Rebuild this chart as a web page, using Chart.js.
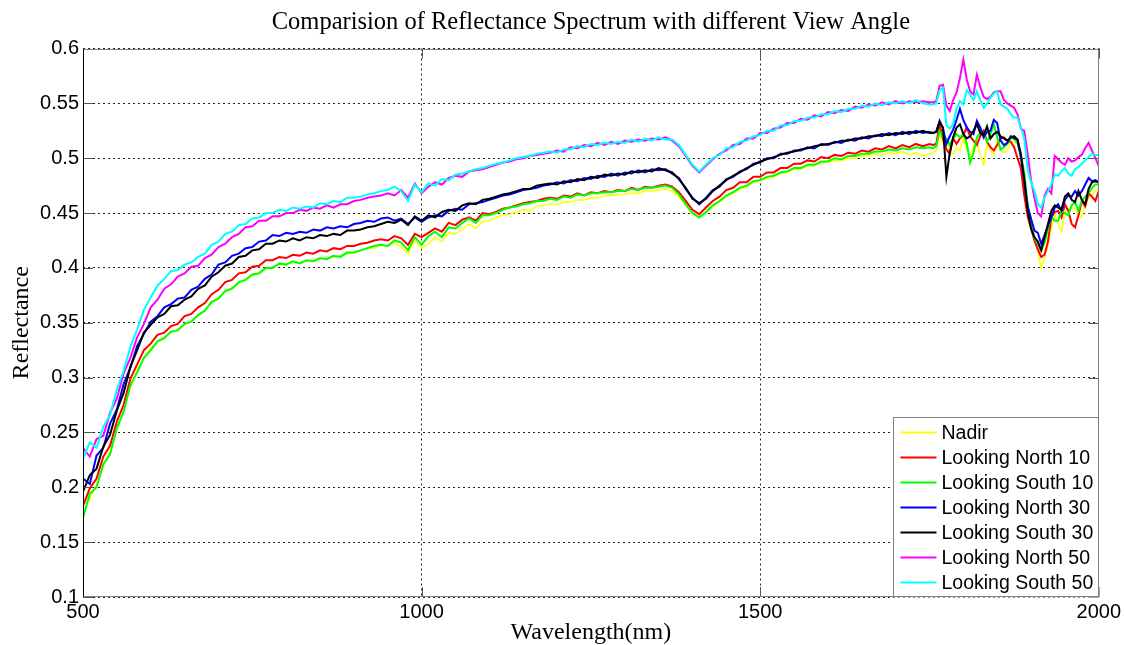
<!DOCTYPE html>
<html>
<head>
<meta charset="utf-8">
<title>Reflectance Spectrum</title>
<script src="https://cdn.jsdelivr.net/npm/chart.js@4.4.1/dist/chart.umd.min.js"></script>
<style>
  html, body { margin: 0; padding: 0; background: #fff; }
  #wrap { width: 1124px; height: 645px; }
</style>
</head>
<body>
<div id="wrap"><canvas id="spectrum-chart" width="1124" height="645"></canvas></div>
<script>
// wavelength samples (nm): 10 nm steps up to 1750, then 5 nm steps
const wavelengths = [
  500, 510, 520, 530, 540, 550, 560, 570, 580, 590,
  600, 610, 620, 630, 640, 650, 660, 670, 680, 690,
  700, 710, 720, 730, 740, 750, 760, 770, 780, 790,
  800, 810, 820, 830, 840, 850, 860, 870, 880, 890,
  900, 910, 920, 930, 940, 950, 960, 970, 980, 990,
  1000, 1010, 1020, 1030, 1040, 1050, 1060, 1070, 1080, 1090,
  1100, 1110, 1120, 1130, 1140, 1150, 1160, 1170, 1180, 1190,
  1200, 1210, 1220, 1230, 1240, 1250, 1260, 1270, 1280, 1290,
  1300, 1310, 1320, 1330, 1340, 1350, 1360, 1370, 1380, 1390,
  1400, 1410, 1420, 1430, 1440, 1450, 1460, 1470, 1480, 1490,
  1500, 1510, 1520, 1530, 1540, 1550, 1560, 1570, 1580, 1590,
  1600, 1610, 1620, 1630, 1640, 1650, 1660, 1670, 1680, 1690,
  1700, 1710, 1720, 1730, 1740, 1750,
  1755, 1760, 1765, 1770, 1775, 1780, 1785, 1790, 1795, 1800,
  1805, 1810, 1815, 1820, 1825, 1830, 1835, 1840, 1845, 1850,
  1855, 1860, 1865, 1870, 1875, 1880, 1885, 1890, 1895, 1900,
  1905, 1910, 1915, 1920, 1925, 1930, 1935, 1940, 1945, 1950,
  1955, 1960, 1965, 1970, 1975, 1980, 1985, 1990, 1995, 2000
];

const nadir = [
  0.184, 0.189, 0.203, 0.219, 0.233, 0.252, 0.271, 0.291, 0.307, 0.318,
  0.327, 0.333, 0.337, 0.341, 0.344, 0.348, 0.352, 0.356, 0.362, 0.368,
  0.373, 0.378, 0.382, 0.386, 0.390, 0.393, 0.396, 0.399, 0.401, 0.403,
  0.404, 0.405, 0.405, 0.406, 0.407, 0.408, 0.409, 0.410, 0.411, 0.413,
  0.414, 0.416, 0.418, 0.418, 0.421, 0.420, 0.423, 0.419, 0.413, 0.425,
  0.418, 0.422, 0.428, 0.424, 0.432, 0.431, 0.435, 0.440, 0.436, 0.442,
  0.443, 0.446, 0.448, 0.449, 0.451, 0.453, 0.452, 0.456, 0.457, 0.458,
  0.458, 0.460, 0.460, 0.462, 0.462, 0.464, 0.464, 0.466, 0.466, 0.467,
  0.467, 0.468, 0.468, 0.470, 0.470, 0.471, 0.472, 0.470, 0.465, 0.457,
  0.449, 0.447, 0.450, 0.456, 0.460, 0.465, 0.468, 0.472, 0.474, 0.478,
  0.479, 0.482, 0.483, 0.486, 0.487, 0.490, 0.490, 0.493, 0.493, 0.496,
  0.496, 0.498, 0.498, 0.500, 0.500, 0.502, 0.502, 0.504, 0.503, 0.505,
  0.504, 0.506, 0.503, 0.505, 0.502, 0.504,
  0.505, 0.507, 0.522, 0.513, 0.515, 0.506, 0.504, 0.510, 0.507, 0.518,
  0.508, 0.502, 0.511, 0.515, 0.503, 0.494, 0.512, 0.508, 0.503, 0.516,
  0.507, 0.505, 0.507, 0.516, 0.515, 0.513, 0.499, 0.475, 0.455, 0.437,
  0.426, 0.415, 0.400, 0.410, 0.420, 0.437, 0.449, 0.440, 0.433, 0.451,
  0.454, 0.455, 0.454, 0.449, 0.446, 0.458, 0.464, 0.467, 0.470, 0.473
];

const north10 = [
  0.183, 0.199, 0.208, 0.228, 0.238, 0.260, 0.275, 0.299, 0.312, 0.325,
  0.331, 0.339, 0.341, 0.347, 0.349, 0.356, 0.358, 0.364, 0.368, 0.376,
  0.380, 0.387, 0.389, 0.395, 0.396, 0.401, 0.402, 0.407, 0.407, 0.410,
  0.409, 0.412, 0.411, 0.414, 0.413, 0.416, 0.415, 0.418, 0.417, 0.420,
  0.420, 0.422, 0.423, 0.425, 0.426, 0.425, 0.429, 0.427, 0.421, 0.431,
  0.428, 0.432, 0.436, 0.433, 0.441, 0.439, 0.444, 0.446, 0.443, 0.450,
  0.449, 0.451, 0.454, 0.455, 0.457, 0.459, 0.460, 0.461, 0.463, 0.464,
  0.463, 0.466, 0.465, 0.468, 0.466, 0.469, 0.468, 0.470, 0.469, 0.471,
  0.470, 0.473, 0.471, 0.474, 0.473, 0.475, 0.476, 0.474, 0.469, 0.461,
  0.453, 0.449, 0.455, 0.461, 0.465, 0.471, 0.473, 0.478, 0.478, 0.483,
  0.483, 0.487, 0.487, 0.491, 0.491, 0.495, 0.495, 0.498, 0.497, 0.501,
  0.500, 0.503, 0.502, 0.505, 0.504, 0.507, 0.506, 0.509, 0.508, 0.511,
  0.509, 0.512, 0.510, 0.513, 0.511, 0.513,
  0.512, 0.513, 0.530, 0.518, 0.508, 0.504, 0.518, 0.513, 0.518, 0.521,
  0.528, 0.520, 0.516, 0.512, 0.520, 0.525, 0.515, 0.510, 0.507, 0.512,
  0.518, 0.519, 0.516, 0.515, 0.510, 0.500, 0.491, 0.466, 0.447, 0.436,
  0.425, 0.417, 0.410, 0.412, 0.424, 0.446, 0.451, 0.452, 0.446, 0.458,
  0.452, 0.440, 0.437, 0.448, 0.461, 0.456, 0.468, 0.465, 0.461, 0.470
];

const south10 = [
  0.172, 0.194, 0.200, 0.221, 0.230, 0.254, 0.269, 0.293, 0.305, 0.318,
  0.325, 0.333, 0.336, 0.342, 0.343, 0.349, 0.351, 0.357, 0.361, 0.369,
  0.372, 0.379, 0.381, 0.387, 0.389, 0.394, 0.395, 0.400, 0.400, 0.404,
  0.403, 0.406, 0.404, 0.407, 0.406, 0.409, 0.408, 0.411, 0.410, 0.414,
  0.414, 0.416, 0.418, 0.420, 0.421, 0.420, 0.425, 0.423, 0.416, 0.428,
  0.421, 0.429, 0.433, 0.428, 0.437, 0.436, 0.441, 0.445, 0.441, 0.448,
  0.448, 0.450, 0.453, 0.455, 0.456, 0.458, 0.459, 0.461, 0.461, 0.463,
  0.462, 0.465, 0.464, 0.467, 0.466, 0.468, 0.468, 0.469, 0.469, 0.470,
  0.470, 0.472, 0.471, 0.473, 0.473, 0.474, 0.475, 0.473, 0.467, 0.458,
  0.450, 0.446, 0.451, 0.457, 0.461, 0.466, 0.469, 0.473, 0.475, 0.479,
  0.480, 0.483, 0.484, 0.487, 0.488, 0.491, 0.491, 0.494, 0.494, 0.497,
  0.497, 0.500, 0.499, 0.502, 0.502, 0.504, 0.504, 0.506, 0.506, 0.508,
  0.507, 0.509, 0.508, 0.510, 0.509, 0.510,
  0.509, 0.511, 0.525, 0.520, 0.518, 0.512, 0.518, 0.522, 0.519, 0.522,
  0.514, 0.496, 0.505, 0.519, 0.523, 0.522, 0.515, 0.522, 0.531, 0.519,
  0.508, 0.510, 0.513, 0.518, 0.518, 0.514, 0.503, 0.487, 0.458, 0.440,
  0.427, 0.422, 0.416, 0.423, 0.435, 0.447, 0.443, 0.443, 0.452, 0.450,
  0.448, 0.457, 0.460, 0.452, 0.461, 0.465, 0.468, 0.473, 0.476, 0.476
];

const north30 = [
  0.208, 0.203, 0.229, 0.236, 0.258, 0.271, 0.294, 0.309, 0.329, 0.340,
  0.351, 0.356, 0.364, 0.367, 0.372, 0.373, 0.380, 0.383, 0.390, 0.394,
  0.403, 0.405, 0.411, 0.413, 0.418, 0.419, 0.424, 0.425, 0.430, 0.429,
  0.432, 0.431, 0.433, 0.432, 0.435, 0.434, 0.437, 0.436, 0.438, 0.437,
  0.440, 0.441, 0.443, 0.442, 0.445, 0.446, 0.443, 0.445, 0.440, 0.446,
  0.442, 0.446, 0.448, 0.447, 0.452, 0.454, 0.453, 0.458, 0.459, 0.460,
  0.462, 0.464, 0.466, 0.467, 0.469, 0.471, 0.472, 0.473, 0.475, 0.476,
  0.478, 0.477, 0.480, 0.479, 0.482, 0.481, 0.484, 0.483, 0.486, 0.484,
  0.487, 0.486, 0.489, 0.487, 0.490, 0.489, 0.490, 0.486, 0.482, 0.472,
  0.464, 0.458, 0.464, 0.471, 0.474, 0.481, 0.483, 0.488, 0.490, 0.495,
  0.496, 0.500, 0.500, 0.504, 0.504, 0.507, 0.507, 0.510, 0.509, 0.513,
  0.512, 0.515, 0.514, 0.517, 0.516, 0.519, 0.518, 0.521, 0.520, 0.523,
  0.521, 0.524, 0.522, 0.525, 0.523, 0.524,
  0.523, 0.524, 0.534, 0.527, 0.513, 0.520, 0.526, 0.535, 0.545, 0.535,
  0.528, 0.524, 0.522, 0.534, 0.528, 0.519, 0.524, 0.525, 0.535, 0.532,
  0.516, 0.512, 0.514, 0.520, 0.518, 0.517, 0.501, 0.480, 0.456, 0.445,
  0.434, 0.432, 0.422, 0.430, 0.438, 0.446, 0.455, 0.458, 0.452, 0.462,
  0.466, 0.465, 0.470, 0.466, 0.470, 0.476, 0.482, 0.479, 0.480, 0.478
];

const south30 = [
  0.196, 0.211, 0.217, 0.237, 0.248, 0.270, 0.286, 0.310, 0.325, 0.341,
  0.348, 0.355, 0.358, 0.365, 0.366, 0.371, 0.374, 0.381, 0.384, 0.392,
  0.396, 0.402, 0.404, 0.410, 0.411, 0.416, 0.417, 0.422, 0.422, 0.425,
  0.424, 0.427, 0.425, 0.428, 0.427, 0.430, 0.429, 0.431, 0.430, 0.434,
  0.434, 0.435, 0.437, 0.438, 0.440, 0.442, 0.441, 0.444, 0.439, 0.447,
  0.443, 0.448, 0.446, 0.451, 0.453, 0.452, 0.457, 0.459, 0.458, 0.462,
  0.463, 0.465, 0.467, 0.468, 0.470, 0.472, 0.472, 0.475, 0.476, 0.477,
  0.476, 0.479, 0.478, 0.481, 0.480, 0.483, 0.482, 0.485, 0.484, 0.486,
  0.485, 0.488, 0.487, 0.489, 0.488, 0.491, 0.489, 0.487, 0.481, 0.473,
  0.463, 0.459, 0.463, 0.470, 0.475, 0.480, 0.484, 0.487, 0.491, 0.494,
  0.497, 0.499, 0.501, 0.503, 0.505, 0.506, 0.508, 0.509, 0.511, 0.512,
  0.513, 0.514, 0.516, 0.516, 0.518, 0.518, 0.520, 0.520, 0.522, 0.521,
  0.523, 0.522, 0.524, 0.523, 0.525, 0.523,
  0.523, 0.524, 0.533, 0.528, 0.483, 0.505, 0.519, 0.528, 0.531, 0.522,
  0.518, 0.520, 0.525, 0.531, 0.523, 0.521, 0.529, 0.518, 0.522, 0.524,
  0.520, 0.518, 0.516, 0.519, 0.520, 0.517, 0.504, 0.480, 0.452, 0.436,
  0.428, 0.424, 0.416, 0.428, 0.440, 0.452, 0.457, 0.455, 0.453, 0.465,
  0.468, 0.462, 0.460, 0.470, 0.462, 0.458, 0.472, 0.478, 0.479, 0.478
];

const north50 = [
  0.236, 0.228, 0.244, 0.247, 0.268, 0.281, 0.304, 0.318, 0.337, 0.349,
  0.364, 0.371, 0.381, 0.385, 0.392, 0.395, 0.401, 0.402, 0.409, 0.412,
  0.419, 0.422, 0.428, 0.431, 0.437, 0.438, 0.443, 0.443, 0.447, 0.447,
  0.450, 0.450, 0.453, 0.452, 0.455, 0.454, 0.457, 0.455, 0.458, 0.458,
  0.461, 0.462, 0.464, 0.465, 0.466, 0.468, 0.466, 0.471, 0.464, 0.477,
  0.468, 0.474, 0.478, 0.476, 0.482, 0.484, 0.483, 0.488, 0.489, 0.490,
  0.492, 0.494, 0.496, 0.497, 0.499, 0.500, 0.502, 0.503, 0.504, 0.505,
  0.507, 0.506, 0.510, 0.509, 0.512, 0.511, 0.514, 0.512, 0.515, 0.513,
  0.516, 0.515, 0.517, 0.516, 0.518, 0.517, 0.519, 0.516, 0.511, 0.502,
  0.493, 0.487, 0.493, 0.499, 0.504, 0.507, 0.512, 0.513, 0.518, 0.518,
  0.523, 0.523, 0.527, 0.528, 0.532, 0.532, 0.536, 0.535, 0.539, 0.538,
  0.542, 0.541, 0.544, 0.543, 0.547, 0.546, 0.549, 0.548, 0.551, 0.549,
  0.552, 0.550, 0.552, 0.551, 0.552, 0.551,
  0.551, 0.552, 0.566, 0.567, 0.548, 0.543, 0.553, 0.560, 0.573, 0.590,
  0.572, 0.561, 0.558, 0.576, 0.565, 0.556, 0.554, 0.556, 0.560, 0.561,
  0.561, 0.553, 0.550, 0.548, 0.546, 0.540, 0.527, 0.525, 0.504, 0.480,
  0.464, 0.450, 0.447, 0.466, 0.472, 0.468, 0.502, 0.499, 0.496, 0.494,
  0.500, 0.497, 0.498, 0.501, 0.503, 0.509, 0.514, 0.507, 0.500, 0.493
];

const south50 = [
  0.226, 0.241, 0.236, 0.255, 0.266, 0.289, 0.306, 0.328, 0.344, 0.362,
  0.373, 0.384, 0.390, 0.397, 0.398, 0.403, 0.405, 0.410, 0.413, 0.421,
  0.424, 0.431, 0.433, 0.439, 0.440, 0.445, 0.446, 0.450, 0.450, 0.453,
  0.452, 0.455, 0.454, 0.456, 0.455, 0.459, 0.458, 0.461, 0.460, 0.464,
  0.464, 0.465, 0.467, 0.468, 0.470, 0.471, 0.474, 0.470, 0.461, 0.476,
  0.469, 0.477, 0.475, 0.481, 0.480, 0.485, 0.486, 0.488, 0.490, 0.491,
  0.493, 0.495, 0.496, 0.498, 0.500, 0.501, 0.502, 0.504, 0.505, 0.506,
  0.505, 0.508, 0.508, 0.511, 0.510, 0.513, 0.512, 0.514, 0.513, 0.515,
  0.514, 0.517, 0.515, 0.518, 0.516, 0.519, 0.517, 0.517, 0.512, 0.503,
  0.494, 0.488, 0.494, 0.500, 0.503, 0.509, 0.510, 0.515, 0.516, 0.520,
  0.521, 0.525, 0.525, 0.530, 0.530, 0.534, 0.534, 0.537, 0.537, 0.540,
  0.540, 0.543, 0.542, 0.545, 0.545, 0.548, 0.547, 0.550, 0.548, 0.551,
  0.550, 0.552, 0.550, 0.553, 0.550, 0.549,
  0.549, 0.550, 0.562, 0.564, 0.530, 0.527, 0.531, 0.545, 0.552, 0.549,
  0.562, 0.558, 0.553, 0.561, 0.553, 0.546, 0.550, 0.555, 0.559, 0.561,
  0.549, 0.547, 0.545, 0.540, 0.537, 0.537, 0.528, 0.518, 0.490, 0.478,
  0.470, 0.458, 0.455, 0.464, 0.470, 0.476, 0.485, 0.484, 0.488, 0.491,
  0.486, 0.484, 0.490, 0.492, 0.495, 0.498, 0.501, 0.504, 0.503, 0.503
];

const seriesNames = [
  "Nadir",
  "Looking North 10",
  "Looking South 10",
  "Looking North 30",
  "Looking South 30",
  "Looking North 50",
  "Looking South 50",
];
const seriesValues = [nadir, north10, south10, north30, south30, north50, south50];
const seriesColors = ["#ffff00", "#ff0000", "#00ff00", "#0000ff", "#000000", "#ff00ff", "#00ffff"];

const sansFont = "'Liberation Sans', Arial, sans-serif";
const serifFont = "'Liberation Serif', 'Times New Roman', serif";

// later series are drawn on top of earlier ones
const datasets = seriesNames.map((name, i) => ({
  label: name,
  data: wavelengths.map((w, k) => ({ x: w, y: seriesValues[i][k] })),
  borderColor: seriesColors[i],
  backgroundColor: seriesColors[i],
  borderWidth: i === 0 ? 1.5 : 2,
  pointRadius: 0,
  tension: 0,
  fill: false,
  order: seriesNames.length - i,
}));

// axes box with short inward tick marks
const axesBox = {
  id: "axesBox",
  afterDatasetsDraw(chart) {
    const { ctx, chartArea: a, scales } = chart;
    ctx.save();
    ctx.lineWidth = 1;
    ctx.strokeStyle = "#555";
    ctx.beginPath();
    scales.y.ticks.forEach((t) => {
      const y = Math.round(scales.y.getPixelForValue(t.value)) + 0.5;
      ctx.moveTo(a.left, y);
      ctx.lineTo(a.left + 10, y);
      ctx.moveTo(a.right, y);
      ctx.lineTo(a.right - 10, y);
    });
    scales.x.ticks.forEach((t) => {
      const x = Math.round(scales.x.getPixelForValue(t.value)) + 0.5;
      ctx.moveTo(x, a.bottom);
      ctx.lineTo(x, a.bottom - 10);
      ctx.moveTo(x, a.top);
      ctx.lineTo(x, a.top + 10);
    });
    ctx.stroke();

    const l = Math.round(a.left) + 0.5;
    const r = Math.round(a.right) - 0.5;
    const t = Math.round(a.top) + 0.5;
    const b = Math.round(a.bottom) - 0.5;
    ctx.strokeStyle = "#808080";
    ctx.beginPath();
    ctx.moveTo(l, t);
    ctx.lineTo(r, t);
    ctx.lineTo(r, b);
    ctx.lineTo(l, b);
    ctx.stroke();
    ctx.strokeStyle = "#000";
    ctx.beginPath();
    ctx.moveTo(l, t);
    ctx.lineTo(l, b);
    ctx.stroke();
    ctx.restore();
  },
};

// legend in the lower right corner of the plot
const legendBox = {
  id: "legendBox",
  afterDraw(chart) {
    const { ctx, chartArea: a } = chart;
    const sets = chart.data.datasets;
    const w = 206;
    const rowH = 25;
    const h = 180;
    const x0 = Math.round(a.right - w) + 0.5;
    const y0 = Math.round(a.bottom - h) + 0.5;
    ctx.save();
    ctx.fillStyle = "#fff";
    ctx.fillRect(x0, y0, w, h);
    ctx.strokeStyle = "#808080";
    ctx.lineWidth = 1;
    ctx.strokeRect(x0, y0, w - 1, h - 1);
    ctx.font = "19.5px " + sansFont;
    ctx.textBaseline = "middle";
    ctx.textAlign = "left";
    sets.forEach((ds, i) => {
      const y = y0 + 15 + i * rowH;
      ctx.strokeStyle = ds.borderColor;
      ctx.lineWidth = 2;
      ctx.beginPath();
      ctx.moveTo(x0 + 7, y);
      ctx.lineTo(x0 + 43, y);
      ctx.stroke();
      ctx.fillStyle = "#000";
      ctx.fillText(ds.label, x0 + 48, y + 1);
    });
    ctx.restore();
  },
};

new Chart(document.getElementById("spectrum-chart"), {
  type: "line",
  data: { datasets },
  options: {
    responsive: false,
    animation: false,
    devicePixelRatio: 1,
    layout: { padding: { left: 0, right: 23, top: 0, bottom: 0 } },
    plugins: {
      legend: { display: false },
      tooltip: { enabled: false },
      title: {
        display: true,
        fullSize: false,
        text: "Comparision of Reflectance Spectrum with different View Angle",
        color: "#000",
        font: { family: serifFont, size: 24.5, weight: "normal", lineHeight: 1 },
        padding: { top: 10, bottom: 14 },
      },
    },
    scales: {
      x: {
        type: "linear",
        min: 500,
        max: 2000,
        ticks: {
          stepSize: 500,
          color: "#000",
          font: { family: sansFont, size: 20 },
          padding: 3,
          maxRotation: 0,
          callback: (v) => String(v),
        },
        grid: { color: "#222", lineWidth: 1, drawTicks: false },
        border: { display: false, dash: [2, 3] },
        title: {
          display: true,
          text: "Wavelength(nm)",
          color: "#000",
          font: { family: serifFont, size: 24, weight: "normal", lineHeight: 1 },
          padding: { top: 0, bottom: 0 },
        },
        afterFit: (scale) => {
          scale.height = 48;
        },
      },
      y: {
        min: 0.1,
        max: 0.6,
        ticks: {
          stepSize: 0.05,
          color: "#000",
          font: { family: sansFont, size: 20 },
          padding: 4,
          callback: (v) => String(Math.round(v * 100) / 100),
        },
        grid: { color: "#222", lineWidth: 1, drawTicks: false },
        border: { display: false, dash: [2, 3] },
        title: {
          display: true,
          text: "Reflectance",
          color: "#000",
          font: { family: serifFont, size: 24, weight: "normal", lineHeight: 1 },
          padding: { top: 10, bottom: 0 },
        },
        afterFit: (scale) => {
          scale.width = 83;
        },
      },
    },
  },
  plugins: [axesBox, legendBox],
});
</script>
</body>
</html>
